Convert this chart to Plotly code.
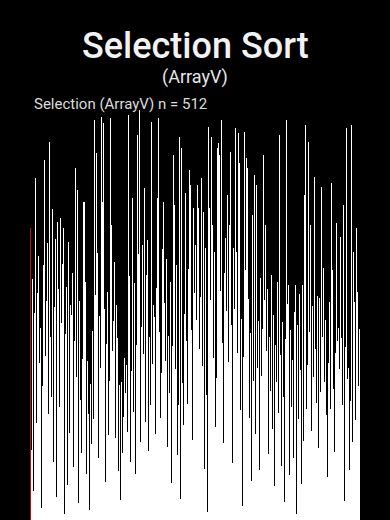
import plotly.graph_objects as go

title_text = "Selection Sort"
subtitle_text = "(ArrayV)"
info_text = "Selection (ArrayV) n = 512"
highlight_index = 0

values = [
    365, 212, 88, 301, 147, 36, 259, 178, 427, 462, 121, 284, 63, 330, 196, 435,
    240, 15, 452, 167, 318, 92, 450, 435, 205, 274, 51, 346, 133, 496, 472, 228,
    310, 154, 389, 502, 72, 433, 266, 351, 118, 29, 372, 203, 288, 141, 510, 377,
    246, 98, 320, 365, 187, 7, 360, 232, 291, 160, 44, 347, 215, 109, 269, 183,
    256, 308, 137, 66, 318, 224, 440, 403, 179, 412, 252, 21, 273, 293, 150, 84,
    447, 201, 397, 117, 397, 262, 297, 58, 244, 198, 132, 231, 12, 170, 215, 95,
    236, 443, 126, 510, 500, 281, 164, 458, 333, 402, 78, 255, 472, 190, 503, 301,
    397, 142, 496, 264, 331, 47, 220, 490, 285, 106, 243, 174, 502, 28, 368, 211,
    393, 249, 181, 322, 102, 238, 269, 227, 139, 61, 169, 114, 25, 172, 153, 84,
    177, 129, 202, 41, 158, 193, 247, 110, 506, 226, 305, 73, 377, 186, 280, 402,
    135, 478, 296, 57, 490, 219, 481, 168, 332, 512, 365, 97, 241, 150, 343, 19,
    207, 415, 248, 123, 306, 176, 350, 86, 269, 229, 144, 258, 497, 38, 195, 269,
    162, 254, 108, 422, 290, 402, 69, 502, 235, 311, 127, 397, 184, 339, 14, 397,
    271, 472, 199, 326, 483, 91, 230, 468, 159, 297, 385, 46, 456, 217, 456, 112,
    393, 188, 266, 318, 81, 245, 143, 478, 302, 26, 208, 465, 171, 277, 119, 257,
    54, 408, 223, 472, 145, 314, 76, 437, 189, 418, 237, 269, 100, 390, 166, 283,
    343, 131, 250, 418, 33, 390, 213, 465, 279, 104, 427, 192, 260, 385, 64, 227,
    340, 156, 299, 10, 491, 234, 390, 138, 275, 478, 89, 368, 202, 253, 335, 116,
    425, 177, 465, 240, 471, 52, 456, 286, 163, 500, 221, 418, 96, 309, 148, 352,
    261, 35, 406, 197, 278, 368, 124, 460, 244, 335, 71, 340, 185, 263, 490, 151,
    335, 209, 59, 483, 292, 446, 137, 465, 251, 18, 435, 204, 485, 165, 312, 452,
    93, 440, 276, 440, 128, 340, 233, 49, 268, 381, 173, 222, 431, 107, 294, 418,
    190, 481, 248, 416, 62, 302, 422, 180, 239, 120, 456, 275, 31, 368, 211, 147,
    289, 315, 82, 228, 496, 161, 306, 385, 114, 256, 446, 42, 218, 440, 172, 297,
    485, 134, 264, 481, 206, 352, 68, 247, 291, 153, 23, 378, 226, 500, 119, 270,
    183, 293, 56, 356, 237, 141, 347, 200, 77, 435, 260, 293, 164, 8, 431, 243,
    126, 433, 282, 187, 393, 45, 293, 214, 99, 406, 252, 493, 138, 269, 194, 27,
    472, 235, 305, 368, 111, 441, 267, 179, 53, 428, 214, 358, 146, 410, 280, 90,
    205, 277, 160, 66, 416, 229, 118, 315, 172, 318, 250, 88, 131, 54, 115, 196,
    272, 331, 139, 421, 233, 312, 163, 40, 85, 208, 275, 371, 103, 224, 240, 152,
    189, 353, 70, 227, 143, 258, 393, 24, 458, 216, 296, 490, 176, 108, 190, 62,
    263, 149, 493, 231, 97, 335, 186, 272, 343, 125, 365, 212, 285, 167, 54, 239,
]

n = len(values)
positions = list(range(n))
colors = ["#b3141a" if i == highlight_index else "#ffffff" for i in positions]

fig = go.Figure(
    go.Bar(
        x=positions,
        y=values,
        marker=dict(color=colors, line=dict(width=0)),
        hoverinfo="skip",
    )
)

fig.update_layout(
    width=390,
    height=520,
    paper_bgcolor="#000000",
    plot_bgcolor="#000000",
    margin=dict(l=30, r=30, t=110, b=0),
    bargap=0,
    showlegend=False,
    xaxis=dict(visible=False, range=[-0.5, n - 0.5], fixedrange=True),
    yaxis=dict(visible=False, range=[0, 512], fixedrange=True),
    font=dict(family="Roboto", color="#ffffff"),
    annotations=[
        dict(text=title_text, xref="paper", yref="paper", x=0.5, y=1.155,
             xanchor="center", yanchor="middle", showarrow=False,
             font=dict(size=36, color="#f2f2f2", family="Roboto", weight=500)),
        dict(text=subtitle_text, xref="paper", yref="paper", x=0.5, y=1.081,
             xanchor="center", yanchor="middle", showarrow=False,
             font=dict(size=18, color="#e6e6e6", family="Roboto")),
        dict(text=info_text, xref="paper", yref="paper", x=0.006, y=1.0146,
             xanchor="left", yanchor="middle", showarrow=False,
             font=dict(size=15, color="#dcdcdc", family="Roboto")),
    ],
)

fig.write_html("out.html", config={"staticPlot": True, "displayModeBar": False})
